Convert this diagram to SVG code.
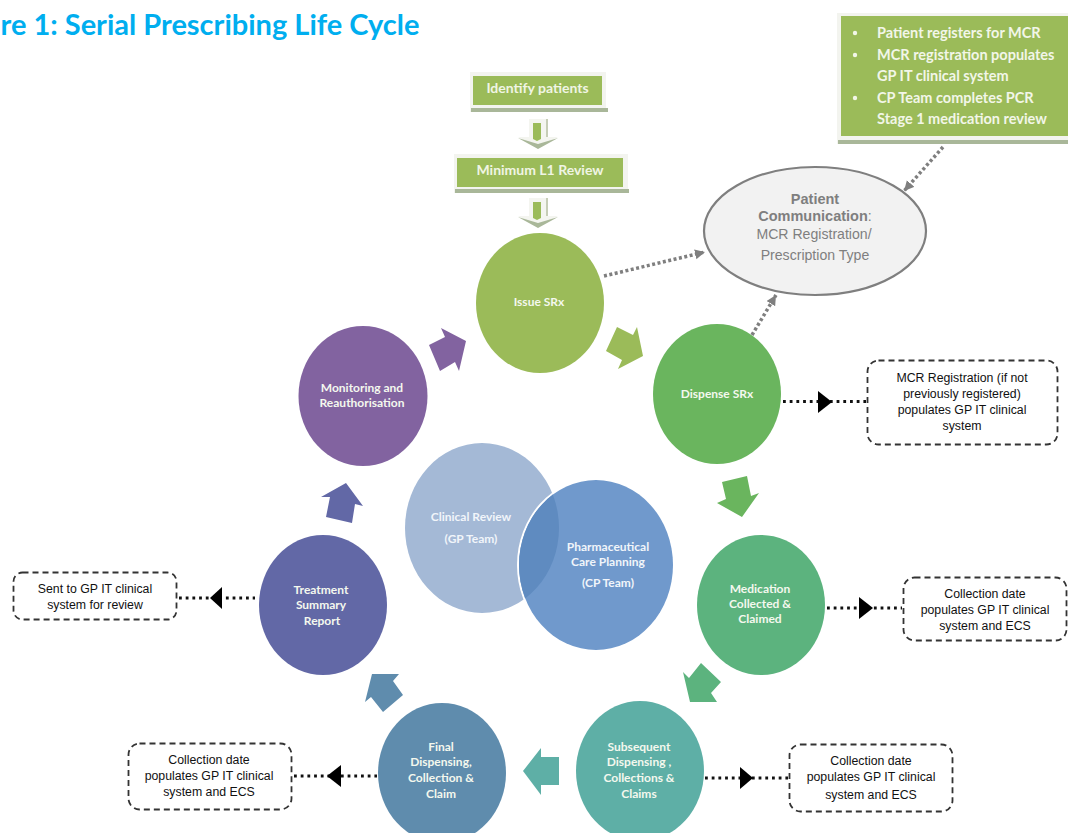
<svg xmlns="http://www.w3.org/2000/svg" width="1068" height="833" viewBox="0 0 1068 833">
<style>
text{font-family:"Lato","Open Sans",sans-serif;text-anchor:middle}
.w{fill:#f4f8ee;font-weight:700;font-size:12px}
.l{fill:#f1f5fa;font-weight:700;font-size:12px}
.h{fill:#f0f5e4;font-weight:700;font-size:14px}
.b{fill:#f2f6e8;font-weight:700;font-size:14.5px;text-anchor:start}
.k{fill:#111;font-family:"Liberation Sans",Arial,sans-serif;font-size:12.3px}
.g{fill:#7f7f7f;font-family:"Liberation Sans",Arial,sans-serif;font-size:14.1px}
.gb{font-weight:700;font-size:14.5px}
.d{fill:#fff;stroke:#333;stroke-width:1.8;stroke-dasharray:6 4}
.ga{fill:none;stroke:#7f7f7f;stroke-width:3.5;stroke-dasharray:3 2.5}
.ka{fill:none;stroke:#111;stroke-width:2.8;stroke-dasharray:2.8 3.9}
.c1{fill:#f3f4ef}.c2{fill:#a9b799}.c3{fill:#9bbb59}
</style>
<defs>
<marker id="gh" markerUnits="userSpaceOnUse" markerWidth="12" markerHeight="12" refX="10" refY="5" orient="auto"><path d="M0 0L10 5L0 10Z" fill="#7f7f7f"/></marker>
<clipPath id="cl"><ellipse cx="482" cy="528" rx="77" ry="85"/></clipPath>
<g id="chev">
<path fill="#f4f5f0" d="M529 119H546V137H558L538 147L518 137H529Z"/>
<path fill="#c6cdb6" d="M546 119H548V137H546Z"/>
<path fill="#a9b799" d="M518 138L538 144L558 138L538 149Z"/>
<path fill="#9bbb59" d="M533 123H541V139L537 141L533 139Z"/>
</g>
</defs>
<text x="0.5" y="35" style="text-anchor:start;font-size:29px;font-weight:700;fill:#00aeef">re 1: Serial Prescribing Life Cycle</text>

<g id="connectors">
<path class="ga" d="M604 276L705 252" marker-end="url(#gh)"/>
<path class="ga" d="M943 147L904 191" marker-end="url(#gh)"/>
<path class="ga" d="M752 335L776 295" marker-end="url(#gh)"/>
<path class="ka" d="M783 401.5H866"/><path d="M818 391L832 402L818 413Z" fill="#000"/>
<path class="ka" d="M827 608H902"/><path d="M859 597L873 608L859 619Z" fill="#000"/>
<path class="ka" d="M705 778H788"/><path d="M740 767L753 778L740 789Z" fill="#000"/>
<path class="ka" d="M294 776H377"/><path d="M341 765L327 776L341 787Z" fill="#000"/>
<path class="ka" d="M179 598H255"/><path d="M222 587L210 598L222 609Z" fill="#000"/>
<path fill="#9bbb59" d="M617 327L633 335L637 327L643 356L618 369L622 360L606 351Z"/>
<path fill="#6ab55e" d="M722 482L747 476L751 496L759 493L742 517L717 503L726 499Z"/>
<path fill="#5cb37e" d="M701 663L721 682L711 693L717 702L690 702L683 672L689 678Z"/>
<path fill="#5eafa6" d="M559 757L541 757L541 748L523 771L541 795L541 785L559 785Z"/>
<path fill="#5f8cad" d="M403 695L393 681L399 674L372 674L365 702L371 697L383 712Z"/>
<path fill="#6268a6" d="M326 517L330 497L321 497L346 483L363 506L355 504L352 523Z"/>
<path fill="#8263a0" d="M429 345L445 337L441 328L466 341L459 371L455 362L440 371Z"/>
<use href="#chev"/>
<use href="#chev" y="79"/>
</g>

<g id="identify">
<rect class="c1" x="470" y="72" width="136" height="40"/><rect class="c2" x="471" y="108" width="137" height="4"/>
<rect class="c3" x="473" y="76" width="129" height="29"/>
<text class="h" x="537.5" y="93">Identify patients</text></g>
<g id="review">
<rect class="c1" x="454" y="154" width="174" height="39"/><rect class="c2" x="455" y="189" width="174" height="4"/>
<rect class="c3" x="457" y="158" width="166" height="29"/>
<text class="h" x="540" y="175">Minimum L1 Review</text></g>
<g id="registers">
<rect class="c1" x="837" y="13" width="231" height="131"/><rect class="c2" x="838" y="140" width="230" height="4"/>
<rect class="c3" x="841" y="16" width="227" height="120"/>
<circle cx="855" cy="33" r="2.2" fill="#f2f6e8"/><circle cx="855" cy="55" r="2.2" fill="#f2f6e8"/><circle cx="855" cy="98" r="2.2" fill="#f2f6e8"/>
<text class="b" x="877" y="38">Patient registers for MCR</text>
<text class="b" x="877" y="60">MCR registration populates</text>
<text class="b" x="877" y="81">GP IT clinical system</text>
<text class="b" x="877" y="103">CP Team completes PCR</text>
<text class="b" x="877" y="124">Stage 1 medication review</text></g>
<g id="communication">
<ellipse cx="815" cy="231" rx="111" ry="64" fill="#f2f2f2" stroke="#7f7f7f" stroke-width="2.2"/>
<text class="g gb" x="815" y="204">Patient</text>
<text class="g" x="815" y="221"><tspan class="gb">Communication</tspan>:</text>
<text class="g" x="814" y="239">MCR Registration/</text>
<text class="g" x="815" y="260">Prescription Type</text></g>

<g id="issue"><ellipse cx="540" cy="303" rx="64" ry="70" fill="#9bbb59"/><text class="w" x="539" y="306">Issue SRx</text></g>
<g id="dispense"><ellipse cx="717" cy="394" rx="64" ry="70" fill="#6ab55e"/><text class="w" x="717" y="398">Dispense SRx</text></g>
<g id="medication"><ellipse cx="761" cy="605" rx="64" ry="70" fill="#5cb37e"/><text class="w" x="760" y="593">Medication</text><text class="w" x="760" y="608">Collected &amp;</text><text class="w" x="760" y="623">Claimed</text></g>
<g id="subsequent"><ellipse cx="640" cy="771" rx="64" ry="70" fill="#5eafa6"/><text class="w" x="639" y="751">Subsequent</text><text class="w" x="639" y="766">Dispensing ,</text><text class="w" x="639" y="782">Collections &amp;</text><text class="w" x="639" y="798">Claims</text></g>
<g id="final"><ellipse cx="442" cy="773" rx="64" ry="70" fill="#5f8cad"/><text class="w" x="441" y="751">Final</text><text class="w" x="441" y="766">Dispensing,</text><text class="w" x="441" y="782">Collection &amp;</text><text class="w" x="441" y="798">Claim</text></g>
<g id="treatment"><ellipse cx="323" cy="605" rx="64" ry="70" fill="#6268a6"/><text class="w" x="321" y="594">Treatment</text><text class="w" x="321" y="609">Summary</text><text class="w" x="322" y="625">Report</text></g>
<g id="monitoring"><ellipse cx="363" cy="396" rx="64.5" ry="70" fill="#8263a0"/><text class="w" x="362" y="392">Monitoring and</text><text class="w" x="362" y="407">Reauthorisation</text></g>

<g id="clinical"><ellipse cx="482" cy="528" rx="77" ry="85" fill="#a4b9d6"/><text class="l" x="471" y="521">Clinical Review</text><text class="l" x="471" y="543">(GP Team)</text></g>
<g id="pharmaceutical">
<ellipse cx="596" cy="565" rx="79" ry="87" fill="#fff"/>
<ellipse cx="596" cy="565" rx="77" ry="85" fill="#7099cc"/>
<ellipse cx="596" cy="565" rx="77" ry="85" fill="#5f8bc0" clip-path="url(#cl)"/>
<text class="l" x="608" y="551">Pharmaceutical</text><text class="l" x="608" y="566">Care Planning</text><text class="l" x="608" y="587">(CP Team)</text></g>

<g id="note-mcr"><rect class="d" x="867.5" y="360.5" width="190" height="84" rx="11"/><text class="k" x="962" y="382">MCR Registration (if not</text><text class="k" x="962" y="398">previously registered)</text><text class="k" x="962" y="414">populates GP IT clinical</text><text class="k" x="962" y="430">system</text></g>
<g id="note-collection-1"><rect class="d" x="903.5" y="577.5" width="163" height="63" rx="11"/><text class="k" x="985" y="598">Collection date</text><text class="k" x="985" y="614">populates GP IT clinical</text><text class="k" x="985" y="630">system and ECS</text></g>
<g id="note-collection-2"><rect class="d" x="789.5" y="744.5" width="163" height="67" rx="11"/><text class="k" x="871" y="765">Collection date</text><text class="k" x="871" y="781">populates GP IT clinical</text><text class="k" x="871" y="799">system and ECS</text></g>
<g id="note-collection-3"><rect class="d" x="128.5" y="743.5" width="163" height="66" rx="11"/><text class="k" x="209" y="764">Collection date</text><text class="k" x="209" y="780">populates GP IT clinical</text><text class="k" x="209" y="796">system and ECS</text></g>
<g id="note-sent"><rect class="d" x="13.5" y="572.5" width="163" height="47" rx="9"/><text class="k" x="95" y="593">Sent to GP IT clinical</text><text class="k" x="95" y="609">system for review</text></g>
</svg>
